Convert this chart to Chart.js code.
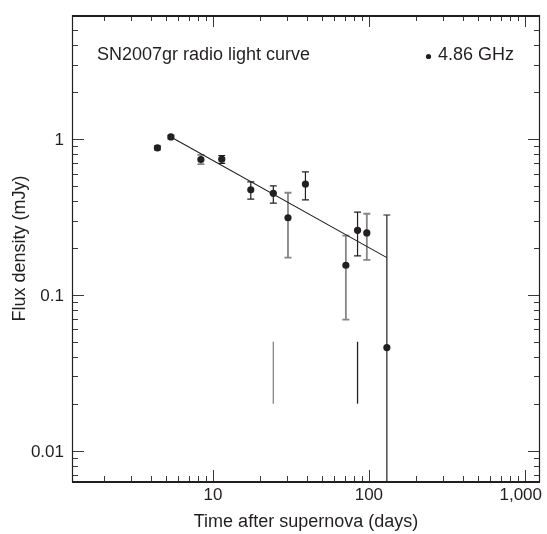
<!DOCTYPE html>
<html>
<head>
<meta charset="utf-8">
<title>SN2007gr radio light curve</title>
<script src="https://cdn.jsdelivr.net/npm/chart.js@4.4.1/dist/chart.umd.min.js"></script>
<style>
body { margin: 0; background: #fff; }
#wrap { width: 547px; height: 534px; }
</style>
</head>
<body>
<div id="wrap"><canvas id="lightCurve" width="547" height="534"></canvas></div>
<script>
// 4.86 GHz flux densities
var days   = [4.41, 5.38, 8.38, 11.4, 17.5, 24.4, 30.3, 39.2, 71.2, 84.6, 97.0, 130.4];
var flux   = [0.88, 1.034, 0.741, 0.744, 0.473, 0.449, 0.313, 0.515, 0.155, 0.260, 0.250, 0.0459];
var fluxHi = [0.905, 1.06, 0.793, 0.786, 0.532, 0.502, 0.453, 0.617, 0.240, 0.340, 0.332, 0.326];
var fluxLo = [0.855, 1.01, 0.691, 0.699, 0.412, 0.389, 0.1735, 0.408, 0.0694, 0.178, 0.1676, 0.001];

// power-law fit
var fitDays = [5.38, 130.4];
var fitFlux = [1.034, 0.1735];

// the two bare vertical bars near the bottom
var limitDays = [24.4, 84.6];
var limitLo   = [0.02, 0.02];
var limitHi   = [0.05, 0.05];

var xTicks = [10, 100, 1000];
var xTickLabels = ['10', '100', '1,000'];
var yTicks = [0.01, 0.1, 1];
var yTickLabels = ['0.01', '0.1', '1'];

var INK = '#231f20';
var GREY = '#858585';
var greyBars = [0, 1, 2, 6, 8, 10];   // these error bars print lighter in the original
var greyLimits = [0];
var FONT = '"Liberation Sans", Arial, sans-serif';

function logTicks(min, max) {
    var out = [];
    for (var d = 0.0001; d <= 10000; d *= 10) {
        for (var m = 1; m <= 9; m++) {
            var v = m * d;
            if (v >= min * 1.0001 && v <= max * 0.9999) out.push({v: v, major: m === 1});
        }
    }
    return out;
}

var errorBars = {
    id: 'errorBars',
    beforeDatasetsDraw(chart) {
        var c = chart.ctx, xs = chart.scales.x, ys = chart.scales.y, a = chart.chartArea;
        c.save();
        c.beginPath();
        c.rect(a.left, a.top, a.right - a.left, a.bottom - a.top);
        c.clip();
        for (let i = 0; i < days.length; i++) {
            let px = xs.getPixelForValue(days[i]);
            let top = ys.getPixelForValue(fluxHi[i]);
            let bot = ys.getPixelForValue(fluxLo[i]);
            let grey = greyBars.indexOf(i) >= 0;
            c.strokeStyle = grey ? GREY : INK;
            c.lineWidth = grey ? 1.8 : 1.2;
            c.beginPath();
            c.moveTo(px, top); c.lineTo(px, bot);
            c.moveTo(px - 3.5, top); c.lineTo(px + 3.5, top);
            c.moveTo(px - 3.5, bot); c.lineTo(px + 3.5, bot);
            c.stroke();
        }
        for (let i = 0; i < limitDays.length; i++) {
            let px = xs.getPixelForValue(limitDays[i]);
            c.strokeStyle = greyLimits.indexOf(i) >= 0 ? GREY : INK;
            c.lineWidth = 1.3;
            c.beginPath();
            c.moveTo(px, ys.getPixelForValue(limitHi[i]));
            c.lineTo(px, ys.getPixelForValue(limitLo[i]));
            c.stroke();
        }
        c.restore();
    }
};

var frame = {
    id: 'frame',
    afterDraw(chart) {
        var c = chart.ctx, xs = chart.scales.x, ys = chart.scales.y, a = chart.chartArea;
        c.save();
        // inward ticks on all four sides (none hugging the box corners)
        c.strokeStyle = '#3a3a3a';
        c.lineWidth = 1;
        c.beginPath();
        logTicks(xs.min, xs.max).forEach(function(t) {
            var px = Math.round(xs.getPixelForValue(t.v)) + 0.5;
            if (px < a.left + 5 || px > a.right - 5) return;
            var len = t.major ? 12 : 6;
            c.moveTo(px, a.bottom); c.lineTo(px, a.bottom - len);
            c.moveTo(px, a.top); c.lineTo(px, a.top + len);
        });
        logTicks(ys.min, ys.max).forEach(function(t) {
            var py = Math.round(ys.getPixelForValue(t.v)) + 0.5;
            if (py < a.top + 5 || py > a.bottom - 5) return;
            var len = t.major ? 12 : 6;
            c.moveTo(a.left, py); c.lineTo(a.left + len, py);
            c.moveTo(a.right, py); c.lineTo(a.right - len, py);
        });
        c.stroke();

        // box: heavy top and bottom, light sides
        c.strokeStyle = INK;
        c.lineWidth = 1.2;
        c.beginPath();
        c.moveTo(a.left + 0.5, a.top); c.lineTo(a.left + 0.5, a.bottom);
        c.moveTo(a.right - 0.5, a.top); c.lineTo(a.right - 0.5, a.bottom);
        c.stroke();
        c.lineWidth = 2;
        c.beginPath();
        c.moveTo(a.left, a.top + 1); c.lineTo(a.right, a.top + 1);
        c.moveTo(a.left, a.bottom); c.lineTo(a.right, a.bottom);
        c.stroke();

        // tick labels
        c.fillStyle = INK;
        c.font = '17px ' + FONT;
        c.textAlign = 'center';
        c.textBaseline = 'alphabetic';
        for (let i = 0; i < xTicks.length; i++) {
            let px = xs.getPixelForValue(xTicks[i]);
            let w = c.measureText(xTickLabels[i]).width;
            if (px + w / 2 > chart.width - 5) px = chart.width - 5 - w / 2;
            c.fillText(xTickLabels[i], px, a.bottom + 18);
        }
        c.textAlign = 'right';
        for (let i = 0; i < yTicks.length; i++) {
            c.fillText(yTickLabels[i], a.left - 8, ys.getPixelForValue(yTicks[i]) + 6);
        }

        // axis titles
        c.font = '18px ' + FONT;
        c.textAlign = 'center';
        c.fillText('Time after supernova (days)', (a.left + a.right) / 2, a.bottom + 45);
        c.save();
        c.translate(25, (a.top + a.bottom) / 2);
        c.rotate(-Math.PI / 2);
        c.fillText('Flux density (mJy)', 0, 0);
        c.restore();

        // caption and key
        c.textAlign = 'left';
        c.fillText('SN2007gr radio light curve', a.left + 25, a.top + 45);
        c.fillText('4.86 GHz', a.right - 102, a.top + 45);
        c.beginPath();
        c.arc(a.right - 111.5, a.top + 41.5, 2.6, 0, Math.PI * 2);
        c.fill();
        c.restore();
    }
};

var pts = days.map(function(d, i) { return {x: d, y: flux[i]}; });
var fit = fitDays.map(function(d, i) { return {x: d, y: fitFlux[i]}; });

new Chart(document.getElementById('lightCurve'), {
    type: 'scatter',
    data: {
        datasets: [{
            label: '4.86 GHz',
            data: pts,
            backgroundColor: INK,
            borderColor: INK,
            pointRadius: 3.6,
            pointBorderWidth: 0,
            order: 1
        }, {
            label: 'fit',
            data: fit,
            showLine: true,
            borderColor: INK,
            borderWidth: 1.1,
            pointRadius: 0,
            order: 2
        }]
    },
    options: {
        responsive: false,
        animation: false,
        layout: { padding: { left: 72, top: 15, right: 7, bottom: 52 } },
        plugins: { legend: { display: false }, tooltip: { enabled: false } },
        scales: {
            x: { type: 'logarithmic', min: 1.25, max: 1250, display: false },
            y: { type: 'logarithmic', min: 0.00628, max: 6.28, display: false }
        }
    },
    plugins: [errorBars, frame]
});
</script>
</body>
</html>
